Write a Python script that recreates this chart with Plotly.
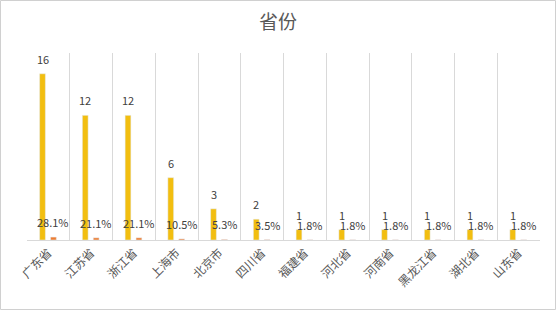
import plotly.graph_objects as go

categories = ["广东省", "江苏省", "浙江省", "上海市", "北京市", "四川省",
              "福建省", "河北省", "河南省", "黑龙江省", "湖北省", "山东省"]
counts = [16, 12, 12, 6, 3, 2, 1, 1, 1, 1, 1, 1]
shares = [0.281, 0.211, 0.211, 0.105, 0.053, 0.035, 0.018, 0.018, 0.018, 0.018, 0.018, 0.018]

W, H = 556, 310
ML, MR, MT, MB = 27, 16, 53, 70
PW, PH = W - ML - MR, H - MT - MB
cat_px = PW / len(categories)

BAR_W = 0.135
GOLD_OFF = -0.205
ORANGE_OFF = 0.051

fig = go.Figure()
fig.add_trace(go.Bar(x=categories, y=counts, name="数量", marker_color="#F2BE10",
                     width=BAR_W, offset=GOLD_OFF, hoverinfo="x+y"))
fig.add_trace(go.Bar(x=categories, y=shares, name="占比", marker_color="#ED7D31",
                     width=BAR_W, offset=ORANGE_OFF, hoverinfo="x+y"))

lab_font = dict(family="Noto Sans CJK SC, sans-serif", size=11, color="#404040")
anns = []
for c, v in zip(categories, counts):
    anns.append(dict(x=c, y=v, xref="x", yref="y", text=str(v), showarrow=False,
                     xshift=(GOLD_OFF + BAR_W / 2) * cat_px, yshift=15, font=lab_font))
for c, v in zip(categories, shares):
    anns.append(dict(x=c, y=v, xref="x", yref="y", text=f"{v*100:.1f}%", showarrow=False,
                     xshift=(ORANGE_OFF + BAR_W / 2) * cat_px, yshift=15, font=lab_font))

fig.update_layout(
    width=W, height=H,
    margin=dict(l=ML, r=MR, t=MT, b=MB),
    paper_bgcolor="white", plot_bgcolor="white",
    barmode="overlay",
    showlegend=False,
    title=dict(text="省份", x=0.5, xanchor="center", y=1 - 22 / H, yanchor="middle",
               font=dict(family="Noto Sans CJK SC, sans-serif", size=19, color="#595959")),
    annotations=anns,
    font=dict(family="Noto Sans CJK SC, sans-serif"),
    shapes=[dict(type="rect", xref="paper", yref="paper",
                 x0=(0.5 - ML) / PW, x1=(W - 0.5 - ML) / PW,
                 y0=-(MB - 0.5) / PH, y1=1 + (MT - 0.5) / PH,
                 line=dict(color="#D0D0D0", width=1), layer="below")],
)
fig.update_xaxes(type="category", tickson="boundaries", showgrid=True, gridcolor="#D9D9D9",
                 gridwidth=1, showline=True, linecolor="#D9D9D9", linewidth=1,
                 ticks="", tickangle=-45,
                 tickfont=dict(family="Noto Sans CJK SC, sans-serif", size=12, color="#595959"))
fig.update_yaxes(range=[0, 18], visible=False, showgrid=False, zeroline=False)

fig.write_html("out.html")
